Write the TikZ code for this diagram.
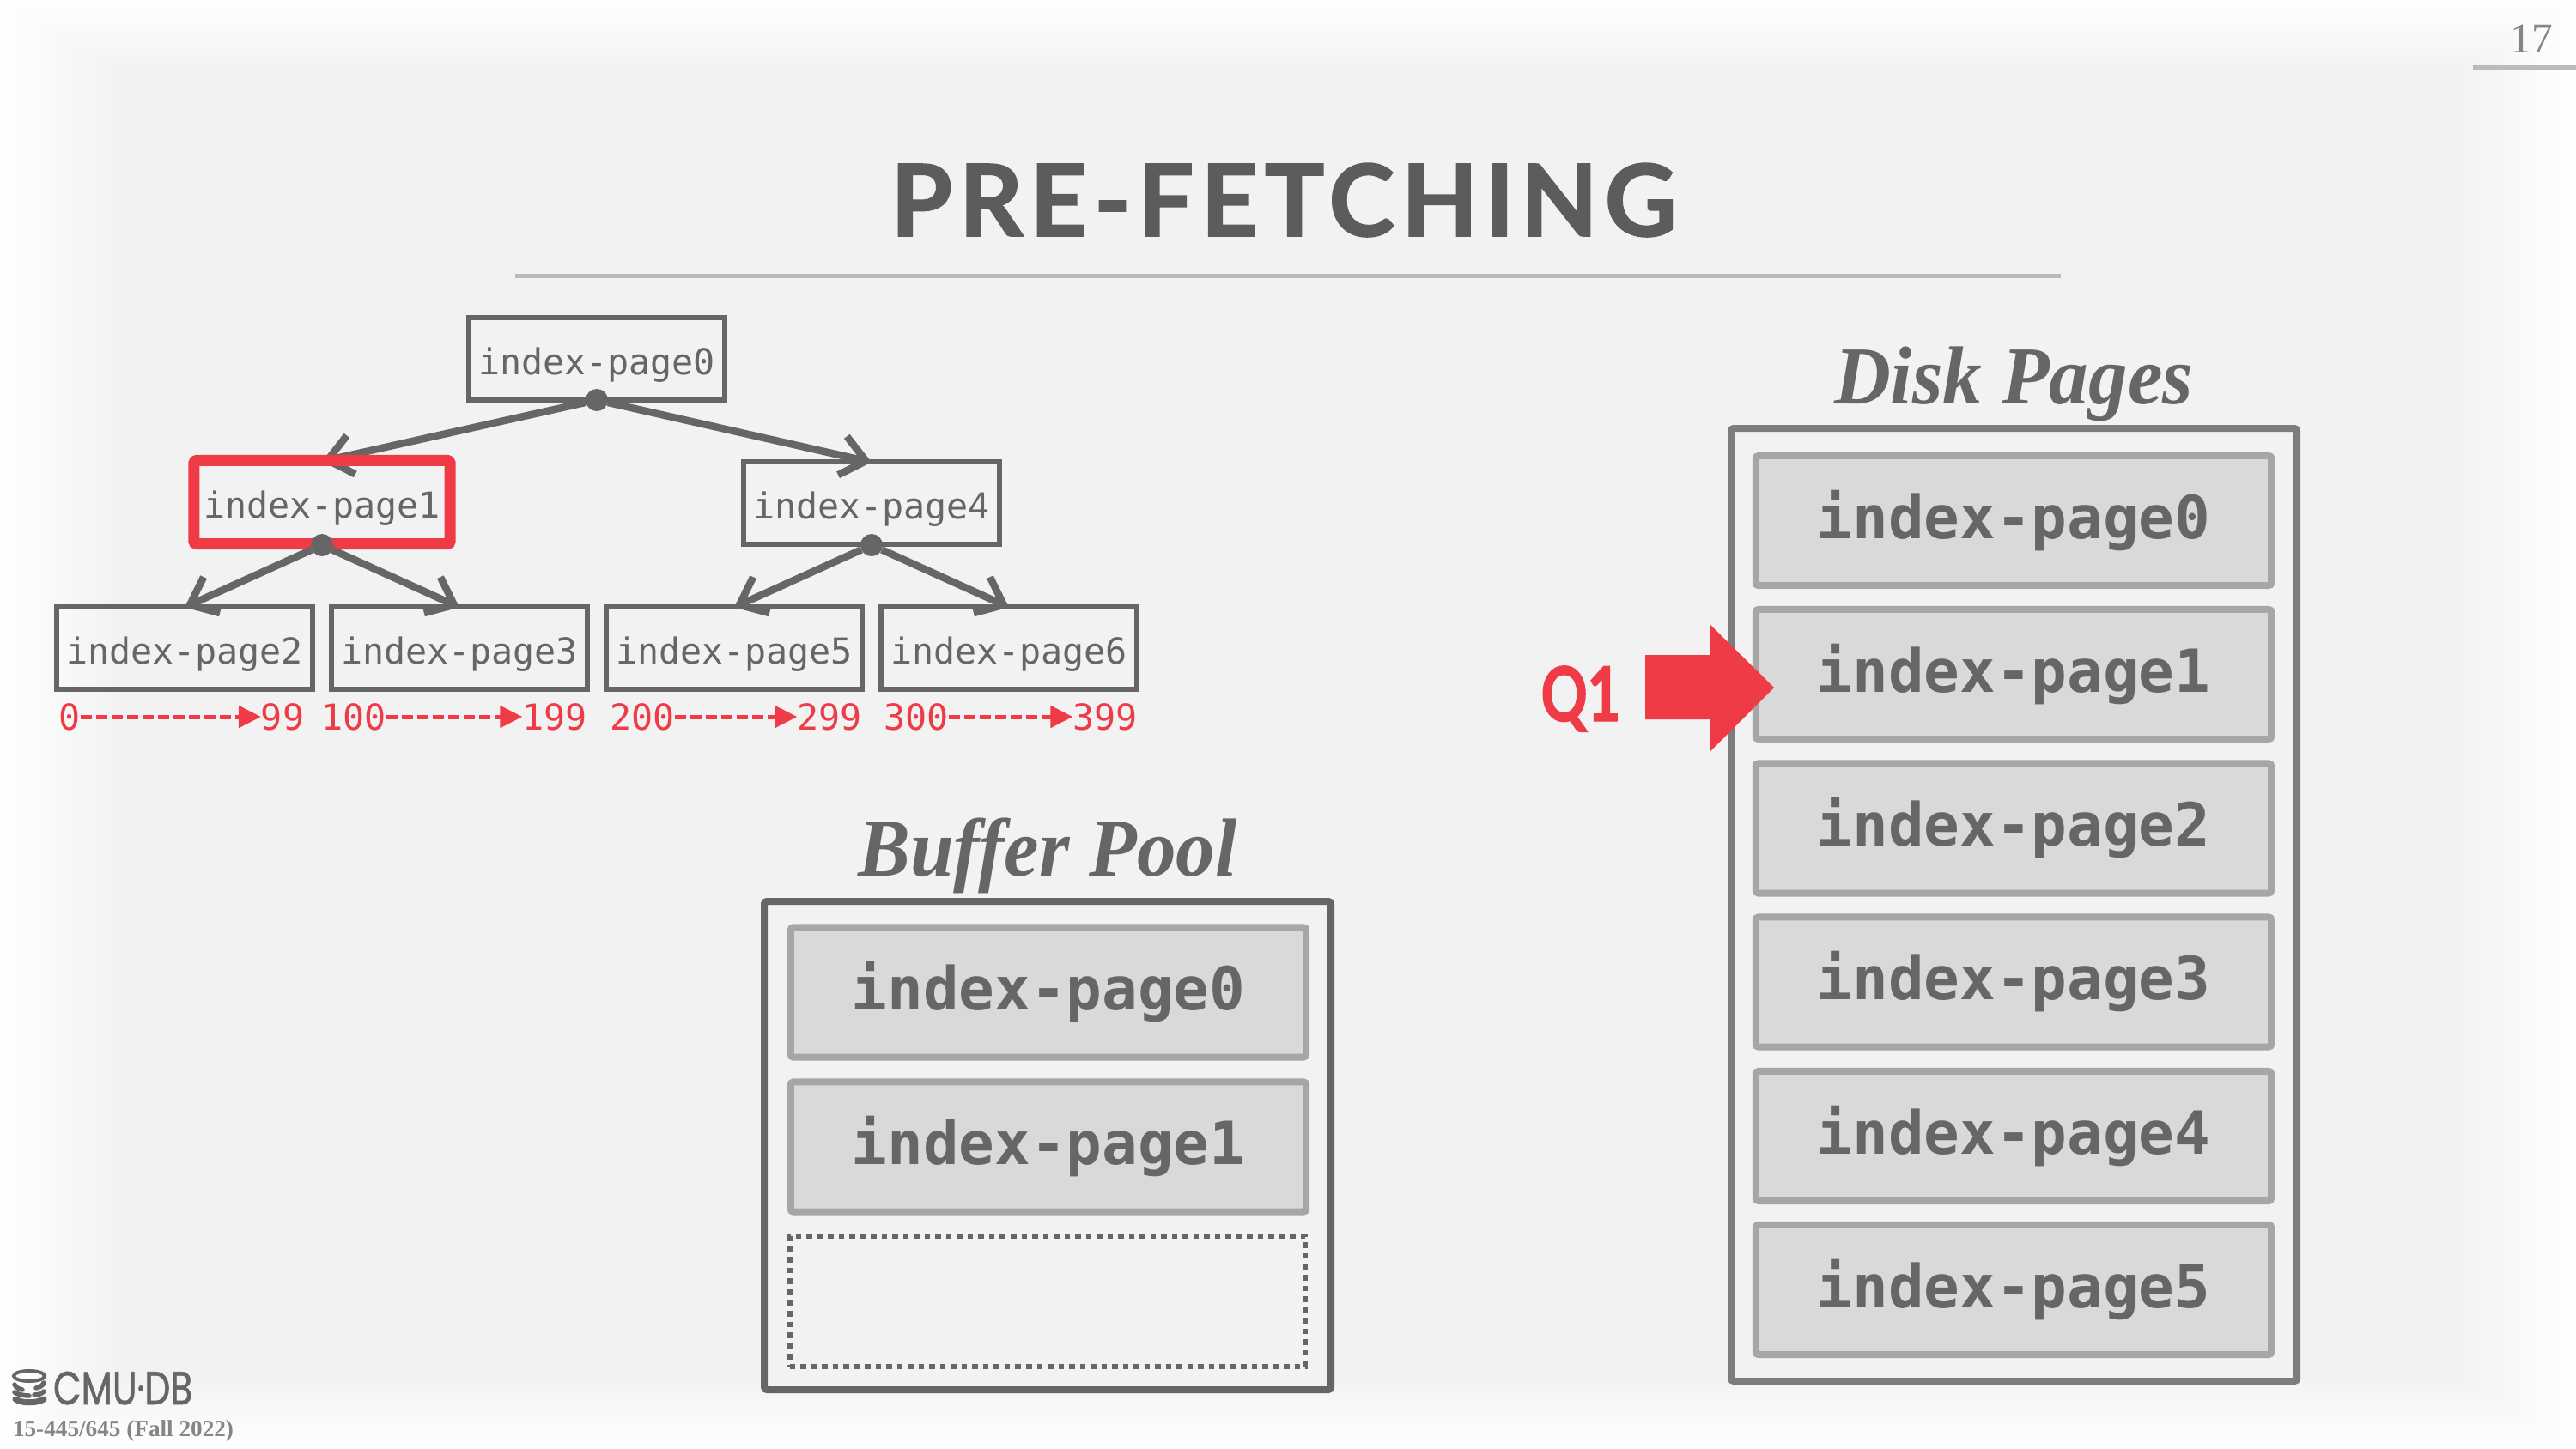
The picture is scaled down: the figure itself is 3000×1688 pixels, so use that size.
\documentclass[tikz,border=0pt]{standalone}
\usepackage{fontspec}
\usetikzlibrary{arrows.meta}
\setmainfont{Liberation Serif}
\setmonofont{DejaVu Sans Mono}
\newfontfamily\titlefont[LetterSpace=6.7,BoldFeatures={FakeBold=1.5}]{Lato}
\newfontfamily\qfont[FakeStretch=0.76,BoldFeatures={FakeBold=1.5}]{Lato}
\newfontfamily\logofont[FakeStretch=0.78,FakeBold=1]{Poppins}
\newfontfamily\headfont[FakeStretch=0.95]{Liberation Serif}
\definecolor{bggray}{HTML}{F2F2F2}
\definecolor{inkgray}{HTML}{666666}
\definecolor{rulegray}{HTML}{BBBBBB}
\definecolor{cellgray}{HTML}{D9D9D9}
\definecolor{celledge}{HTML}{A6A6A6}
\definecolor{hired}{HTML}{EE3B46}
\begin{document}
\begin{tikzpicture}[x=0.01cm,y=-0.01cm]
    \tikzstyle{every node}=[inner sep=0,outer sep=0]
    \tikzstyle{treepage}=[draw=inkgray,line width=0.06cm,minimum width=2.98cm,minimum height=0.95cm,
        text=inkgray,text height=0.43cm,text depth=0.07cm,font=\fontsize{11.85pt}{14pt}\selectfont\ttfamily]
    \tikzstyle{hilite}=[draw=hired,line width=0.13cm,minimum width=2.98cm,minimum height=0.97cm,rounded corners=0.03cm]
    \tikzstyle{treedot}=[circle,fill=inkgray,minimum size=0.26cm]
    \tikzstyle{treelink}=[draw=inkgray,line width=0.085cm,-{Straight Barb[length=0.28cm,width=0.46cm]}]
    \tikzstyle{rangenum}=[text=hired,font=\fontsize{11.85pt}{14pt}\selectfont\ttfamily]
    \tikzstyle{rangelink}=[draw=hired,line width=0.05cm,dash pattern=on 0.13cm off 0.05cm,-{Triangle[length=0.26cm,width=0.25cm]}]
    \tikzstyle{cell}=[draw=celledge,fill=cellgray,line width=0.08cm,minimum width=6cm,minimum height=1.51cm,
        rounded corners=0.03cm,text=inkgray,font=\fontsize{19.7pt}{24pt}\selectfont\ttfamily\bfseries]
    \tikzstyle{emptycell}=[draw=inkgray,line width=0.06cm,minimum width=6cm,minimum height=1.51cm,dash pattern=on 0.065cm off 0.06cm]
    \tikzstyle{heading}=[anchor=base,text=inkgray,font=\fontsize{27.3pt}{32pt}\selectfont\headfont\bfseries\itshape]
    % page background, white at the edges
    \fill[white] (0,0) rectangle (3000,1688);
    \foreach \i [evaluate=\i as \p using \i*100/16,evaluate=\i as \mx using \i*130/16,evaluate=\i as \my using \i*80/16] in {1,...,16}
        \fill[bggray!\p!white] (\mx,\my) rectangle (3000-\mx,1688-\my);
    % title
    \node[anchor=base,text=inkgray!90!black,font=\fontsize{33pt}{40pt}\selectfont\titlefont\bfseries] (title) at (1495,275) {PRE-FETCHING};
    \fill[rulegray] (600,318.5) rectangle (2400,323.5);
    % page number
    \node[anchor=base,text=inkgray!80!white,font=\fontsize{14pt}{17pt}\selectfont] (pageno) at (2948,62) {17};
    \fill[rulegray] (2880,76) rectangle (3000,82);
    % tree
    \node[treepage] (p0) at (695,418) {index-page0};
    \node[treepage] (p1) at (375,585) {index-page1};
    \node[treepage] (p4) at (1015,586) {index-page4};
    \node[treepage] (p2) at (215,755) {index-page2};
    \node[treepage] (p3) at (535,755) {index-page3};
    \node[treepage] (p5) at (855,755) {index-page5};
    \node[treepage] (p6) at (1175,755) {index-page6};
    \node[treedot] (d0) at (695,466) {};
    \draw[treelink] (d0) -- (p1.north);
    \draw[treelink] (d0) -- (p4.north);
    \node[hilite] (hl) at (p1) {};
    \node[treedot] (d1) at (375,635) {};
    \node[treedot] (d4) at (1015,635) {};
    \draw[treelink] (d1) -- (p2.north);
    \draw[treelink] (d1) -- (p3.north);
    \draw[treelink] (d4) -- (p5.north);
    \draw[treelink] (d4) -- (p6.north);
    % key ranges
    \node[rangenum] (lo2) at (81,835) {0};
    \node[rangenum] (hi2) at (329,835) {99};
    \node[rangenum] (lo3) at (412,835) {100};
    \node[rangenum] (hi3) at (646,835) {199};
    \node[rangenum] (lo5) at (748,835) {200};
    \node[rangenum] (hi5) at (966,835) {299};
    \node[rangenum] (lo6) at (1067,835) {300};
    \node[rangenum] (hi6) at (1287,835) {399};
    \draw[rangelink] (lo2) -- (hi2);
    \draw[rangelink] (lo3) -- (hi3);
    \draw[rangelink] (lo5) -- (hi5);
    \draw[rangelink] (lo6) -- (hi6);
    % buffer pool
    \node[heading] (bufname) at (1220,1020) {Buffer Pool};
    \draw[draw=inkgray,line width=0.08cm,rounded corners=0.03cm] (890,1050) rectangle (1550,1619);
    \node[cell] (b0) at (1221,1156) {index-page0};
    \node[cell] (b1) at (1221,1336) {index-page1};
    \node[emptycell] (b2) at (1220,1516) {};
    % disk pages
    \node[heading] (diskname) at (2345,470) {Disk Pages};
    \draw[draw=inkgray!85!white,line width=0.08cm,rounded corners=0.03cm] (2016,499) rectangle (2675,1609);
    \node[cell] (c0) at (2345,606.5) {index-page0};
    \node[cell] (c1) at (2345,785.5) {index-page1};
    \node[cell] (c2) at (2345,965) {index-page2};
    \node[cell] (c3) at (2345,1144) {index-page3};
    \node[cell] (c4) at (2345,1323.5) {index-page4};
    \node[cell] (c5) at (2345,1502.5) {index-page5};
    % query
    \fill[hired] (1916,763) -- (1991,763) -- (1991,727) -- (2066,801) -- (1991,876) -- (1991,838) -- (1916,838) -- cycle;
    \node[anchor=base,text=hired,font=\fontsize{25pt}{30pt}\selectfont\qfont\bfseries] (q1) at (1841,840) {Q1};
    % footer
    \draw[inkgray,line width=0.04cm] (34,1603) ellipse (18 and 6);
    \draw[inkgray,line width=0.055cm,line cap=round] (17,1613) .. controls (19,1617) and (22,1618) .. (26,1619);
    \draw[inkgray,line width=0.055cm,line cap=round] (51,1611) .. controls (49,1615) and (46,1616) .. (42,1617);
    \draw[inkgray,line width=0.055cm,line cap=round] (17,1622) .. controls (21,1625) and (30,1626) .. (34,1626);
    \draw[inkgray,line width=0.055cm,line cap=round] (51,1621) .. controls (48,1624) and (44,1625) .. (40,1625);
    \draw[inkgray,line width=0.07cm,line cap=round] (18,1630) .. controls (25,1635) and (43,1635) .. (51,1630);
    \node[anchor=base west,text=inkgray,font=\fontsize{15.4pt}{18pt}\selectfont\logofont] (logo) at (62,1636) {CMU·DB};
    \node[anchor=base west,text=inkgray!80!white,font=\fontsize{7.74pt}{9pt}\selectfont\bfseries] (course) at (15,1673) {15-445/645 (Fall 2022)};
\end{tikzpicture}
\end{document}
